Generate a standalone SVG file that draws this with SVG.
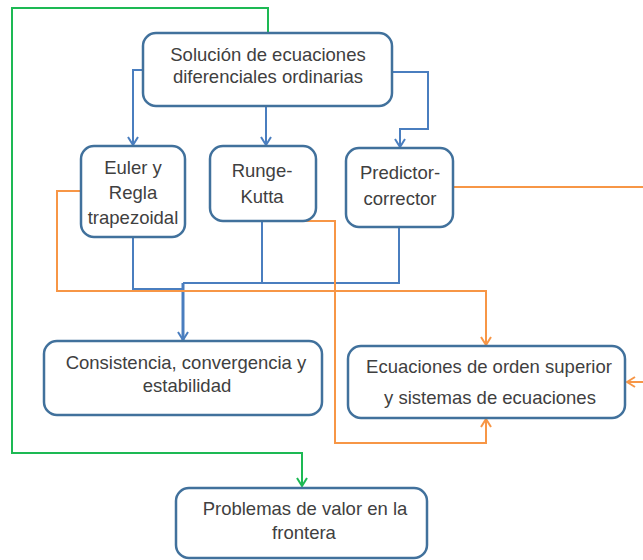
<svg xmlns="http://www.w3.org/2000/svg" width="643" height="560" viewBox="0 0 643 560">
<style>
.box{fill:#fff;stroke:#41719C;stroke-width:2.5}
.t{font-family:"Liberation Sans",Arial,sans-serif;font-size:18.5px;fill:#404040;text-anchor:middle}
.c{fill:none;stroke-width:2;stroke-linejoin:miter}
.b{stroke:#4A7EBF}
.o{stroke:#F79646}
.g{stroke:#1DB954}
</style>
<defs>
<marker id="ab" viewBox="0 0 12 12" refX="11" refY="6" markerWidth="12" markerHeight="12" markerUnits="userSpaceOnUse" orient="auto"><path d="M3,1 L11,6 L3,11" fill="none" stroke="#4A7EBF" stroke-width="2"/></marker>
<marker id="ao" viewBox="0 0 12 12" refX="11" refY="6" markerWidth="12" markerHeight="12" markerUnits="userSpaceOnUse" orient="auto"><path d="M3,1 L11,6 L3,11" fill="none" stroke="#F79646" stroke-width="2"/></marker>
<marker id="ag" viewBox="0 0 12 12" refX="11" refY="6" markerWidth="12" markerHeight="12" markerUnits="userSpaceOnUse" orient="auto"><path d="M3,1 L11,6 L3,11" fill="none" stroke="#1DB954" stroke-width="2"/></marker>
</defs>
<g id="connectors">
<path class="c g" d="M268,32 V8 H12 V453 H302 V486" marker-end="url(#ag)"/>
<path class="c b" d="M143,70 H133 V145" marker-end="url(#ab)"/>
<path class="c b" d="M266,106 V145" marker-end="url(#ab)"/>
<path class="c b" d="M392,72 H428 V129 H400 V147" marker-end="url(#ab)"/>
<path class="c b" d="M133,237 V289 H183"/>
<path class="c b" d="M262,221 V283"/>
<path class="c b" d="M399,227 V283 H183"/>
<path class="c b" style="stroke-width:3" d="M183,283 V340" marker-end="url(#ab)"/>
<path class="c o" d="M81,191 H57 V291 H486 V345" marker-end="url(#ao)"/>
<path class="c o" d="M264,221 H335 V443 H486 V419" marker-end="url(#ao)"/>
<path class="c o" d="M454,187 H645"/>
<path class="c o" d="M645,382 H627" marker-end="url(#ao)"/>
</g>
<g id="n-root"><rect class="box" x="143" y="33" width="249" height="73" rx="13"/><text class="t" x="268" y="61">Solución de ecuaciones</text><text class="t" x="268" y="83">diferenciales ordinarias</text></g>
<g id="n-euler"><rect class="box" x="81" y="146" width="104" height="91" rx="13"/><text class="t" x="133" y="174">Euler y</text><text class="t" x="133" y="199">Regla</text><text class="t" x="133" y="224">trapezoidal</text></g>
<g id="n-runge"><rect class="box" x="210" y="146" width="106" height="75" rx="13"/><text class="t" x="262" y="177">Runge-</text><text class="t" x="262" y="203">Kutta</text></g>
<g id="n-pred"><rect class="box" x="346" y="148" width="107" height="79" rx="13"/><text class="t" x="400" y="179">Predictor-</text><text class="t" x="400" y="205">corrector</text></g>
<g id="n-cons"><rect class="box" x="44" y="341" width="278" height="74" rx="13"/><text class="t" x="186" y="369">Consistencia, convergencia y</text><text class="t" x="187" y="392">estabilidad</text></g>
<g id="n-ecu"><rect class="box" x="348" y="346" width="277" height="72" rx="13"/><text class="t" x="489" y="373">Ecuaciones de orden superior</text><text class="t" x="490" y="404">y sistemas de ecuaciones</text></g>
<g id="n-prob"><rect class="box" x="176" y="488" width="251" height="70" rx="13"/><text class="t" x="305" y="515">Problemas de valor en la</text><text class="t" x="304" y="539">frontera</text></g>
</svg>
